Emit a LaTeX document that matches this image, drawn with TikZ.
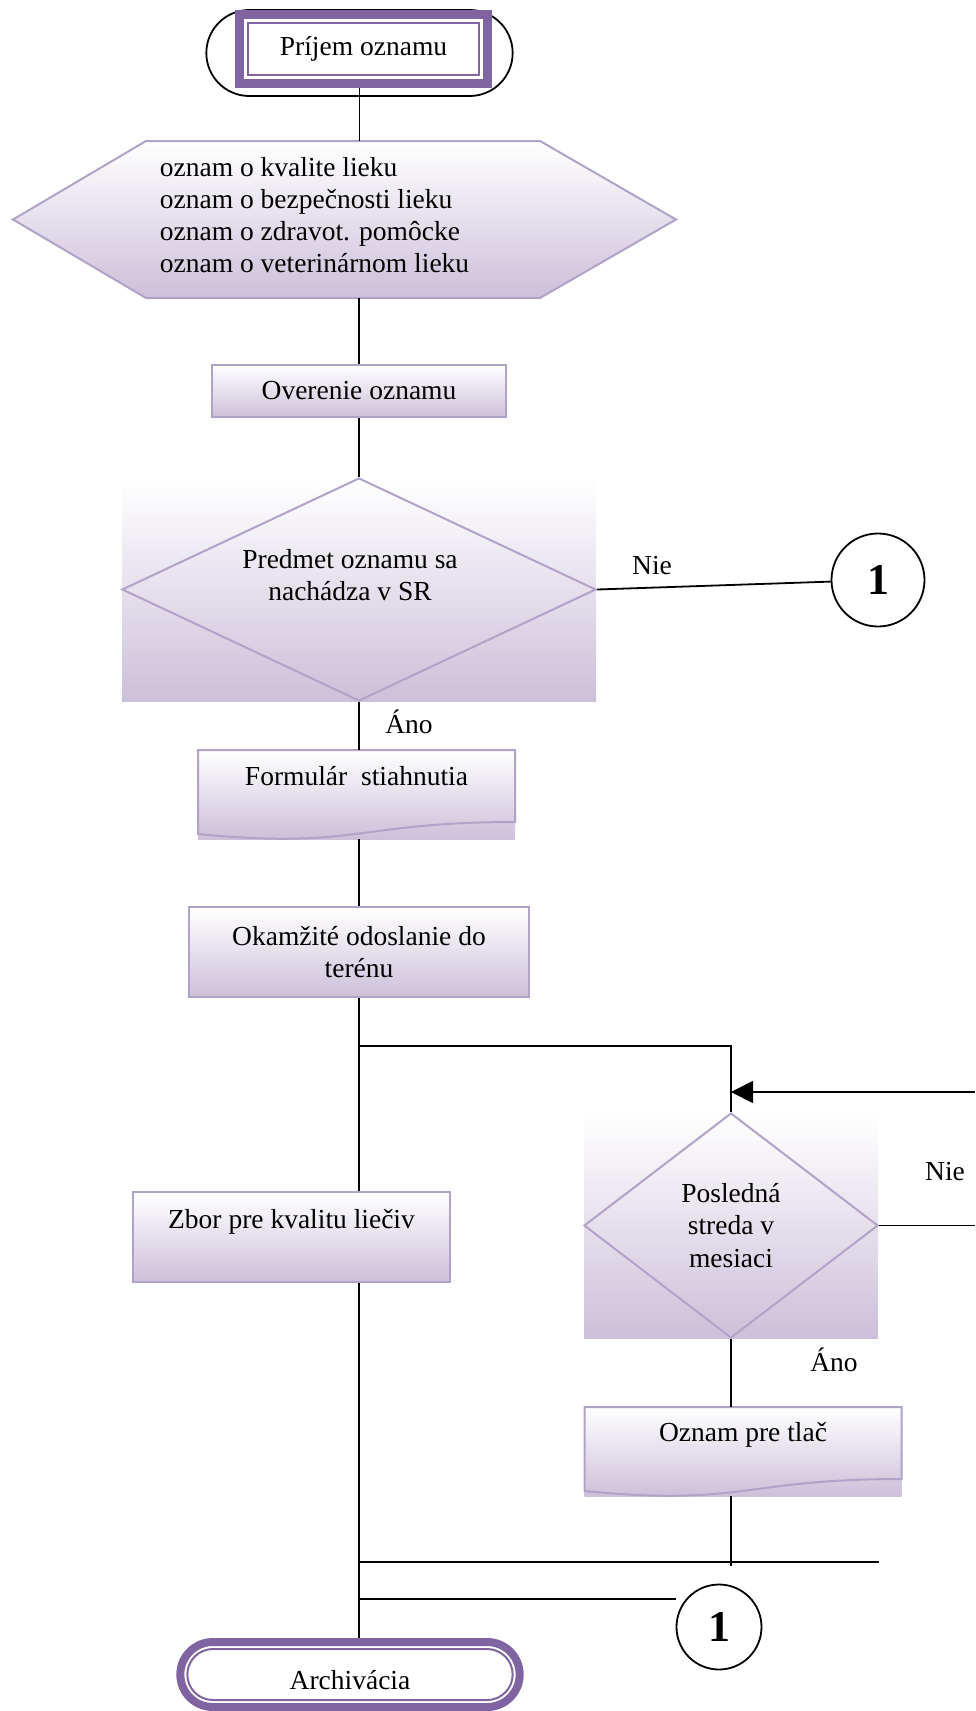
\documentclass[tikz,border=0pt]{standalone}
\usepackage{fontspec}
\setmainfont{Liberation Serif}
\usepackage{tikz}
\usetikzlibrary{shapes.geometric, shapes.misc, arrows.meta}
\definecolor{boxline}{HTML}{B3A2C7}
\definecolor{boxfill}{HTML}{CCC0DA}
\definecolor{termline}{HTML}{8064A2}
\newcommand{\docedge}[1]{%
  \draw [boxline, line width=2pt] (#1.north west) to (#1.north east) to ([yshift=-72pt]#1.north east)
    .. controls ([xshift=-158.5pt,yshift=-72pt]#1.north east) and ([xshift=158.5pt,yshift=-99.6pt]#1.north west) .. ([yshift=-84pt]#1.north west) -- cycle;}

\begin{document}
\begin{tikzpicture}[x=1pt, y=-1pt, line width=1.8pt,
    font=\fontsize{27.5}{32.5}\selectfont,
    flowbox/.style={rectangle, draw=boxline, line width=2pt, top color=white, bottom color=boxfill,
      minimum width=317pt, minimum height=90pt, align=center},
    fadebox/.style={rectangle, top color=white, bottom color=boxfill, outer sep=0pt, inner sep=0pt},
    choice/.style={diamond, draw=boxline, line width=2pt, inner sep=0pt, align=center},
    offpage/.style={circle, draw, line width=1.8pt, inner sep=0pt, minimum size=#1,
      font=\fontsize{44}{48}\selectfont\bfseries},
    offpage/.default=90pt]
      \useasboundingbox (0,0) rectangle (975,1711);
      % start
      \node [rounded rectangle, draw, minimum width=313pt, minimum height=86pt] (start) at (359.5,53) {};
      \node [rectangle, draw=termline, line width=9pt, fill=white, minimum width=248pt, minimum height=69pt] (startbox) at (363.5,49) {Príjem oznamu};
      \draw [termline, line width=2pt] ([xshift=13pt,yshift=-13pt]startbox.north west) rectangle ([xshift=-13pt,yshift=13pt]startbox.south east);
      % kinds of notices
      \node [minimum width=663pt, minimum height=157pt, outer sep=0pt, inner sep=0pt] (kinds) at (344.5,219.5) {};
      \draw [boxline, line width=2pt, top color=white, bottom color=boxfill] (kinds.west) -- ([xshift=133pt]kinds.north west) -- ([xshift=-136pt]kinds.north east) -- (kinds.east) -- ([xshift=-136pt]kinds.south east) -- ([xshift=133pt]kinds.south west) -- cycle;
      \node [anchor=west, align=left, inner sep=0pt, font=\fontsize{27.5}{32}\selectfont] (kindstext) at (159,215) {oznam o kvalite lieku\\oznam o bezpečnosti lieku\\oznam o zdravot. pomôcke\\oznam o veterinárnom lieku};
      \node [flowbox, minimum width=294pt, minimum height=52pt] (verify) at (359,391) {Overenie oznamu};
      % in SR?
      \node [fadebox, minimum width=474pt, minimum height=223pt] (checkbg) at (359,589.5) {};
      \node [choice, minimum width=474pt, minimum height=223pt] (check) at (359,589.5) {};
      \node [align=center] (checktext) at (350,575) {Predmet oznamu sa\\nachádza v SR};
      \node [fadebox, minimum width=317pt, minimum height=89pt, text height=35pt, text depth=54pt] (form) at (356.5,794.5) {Formulár\ \ stiahnutia};
      \docedge{form}
      \node [flowbox, minimum width=340pt, minimum height=90pt] (send) at (359,952) {Okamžité odoslanie do\\terénu};
      \node [flowbox, text height=36pt, text depth=54pt, inner ysep=0pt] (quality) at (291.5,1237) {Zbor pre kvalitu liečiv};
      % last wednesday
      \node [fadebox, minimum width=294pt, minimum height=225pt] (lastbg) at (731,1225.5) {};
      \node [choice, minimum width=294pt, minimum height=225pt] (last) at (731,1225.5) {Posledná\\streda v\\mesiaci};
      \node [fadebox, minimum width=317pt, minimum height=89pt, text height=34pt, text depth=55pt] (toprint) at (743,1451.5) {Oznam pre tlač};
      \docedge{toprint}
      \node [offpage=93pt] (onetop) at (878,580) {1};
      \node [offpage=85pt] (onebot) at (719,1627) {1};
      % end
      \node [rounded rectangle, draw=termline, line width=8pt, minimum width=346pt, minimum height=65pt, text height=29pt, text depth=0pt] (archive) at (350,1674.5) {Archivácia};
      \node [rounded rectangle, draw=termline, line width=2pt, minimum width=332pt, minimum height=51pt] (archiveline) at (archive.center) {};
      \node (nie1) at (652,566) {Nie};
      \node (ano1) at (409,722) {Áno};
      \node (nie2) at (945,1172) {Nie};
      \node (ano2) at (834,1360) {Áno};
      \coordinate (split) at (359,1046);
      \coordinate (back) at (975,1092);
      \coordinate (merge) at (359,1562);
      \coordinate (gather) at (359,1599);
      \coordinate (printend) at (731,1566);
      % connectors
      \draw (startbox.south -| start.south) to (kinds.north -| start.south);
      \draw (kinds.south -| verify.north) to (verify.north);
      \draw (verify) to (check);
      \draw (check.south) to (check.south |- form.north);
      \draw (form.south -| send.north) to (send.north);
      \draw (send.south) to (send.south |- quality.north);
      \draw (send.south |- quality.south) to (send.south |- archive.north);
      \draw (check.east) to (onetop);
      \draw (split) -| (last.north);
      \draw [-{Triangle[length=22pt, width=22pt]}] (back) to (back -| last.north);
      \draw (last.east) to (last.east -| back);
      \draw (last.south) to (last.south |- toprint.north);
      \draw (last.south |- toprint.south) to (printend);
      \draw (merge) to (merge -| last.east);
      \draw (gather) to (gather -| onebot.west);
    \end{tikzpicture}
\end{document}
